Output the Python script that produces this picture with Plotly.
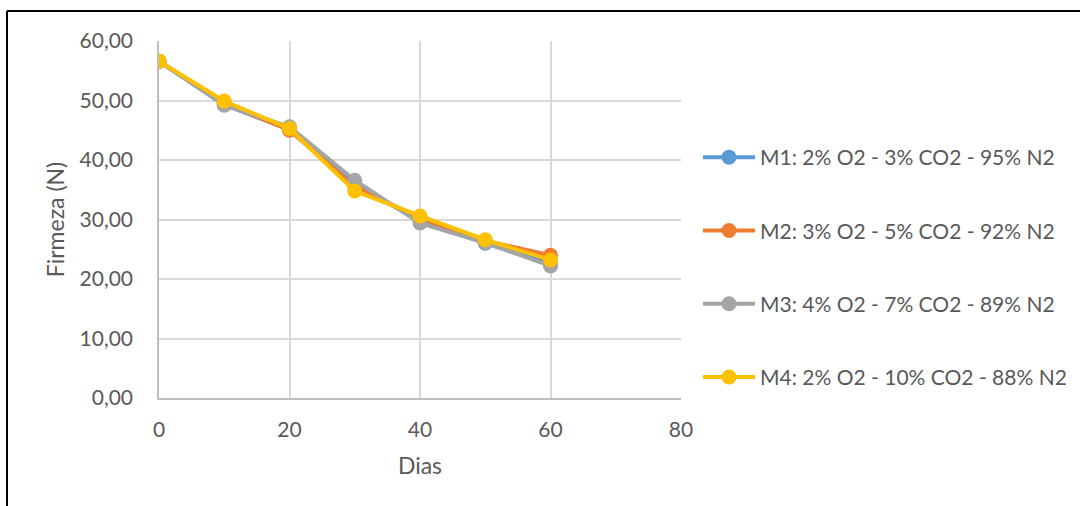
import plotly.graph_objects as go

# Storage days and firmness (N) for each modified-atmosphere mix
dias = [0, 10, 20, 30, 40, 50, 60]
m1 = [56.6, 49.3, 45.1, 35.8, 29.8, 26.0, 22.6]
m2 = [56.6, 49.5, 45.0, 35.5, 30.2, 26.4, 24.0]
m3 = [56.6, 49.2, 45.6, 36.6, 29.4, 26.1, 22.2]
m4 = [56.6, 49.9, 45.3, 34.8, 30.6, 26.6, 23.2]

nombres = [
    "M1: 2% O2 - 3% CO2 - 95% N2",
    "M2: 3% O2 - 5% CO2 - 92% N2",
    "M3: 4% O2 - 7% CO2 - 89% N2",
    "M4: 2% O2 - 10% CO2 - 88% N2",
]
colores = ["#5b9bd5", "#ed7d31", "#a5a5a5", "#ffc000"]
series = [m1, m2, m3, m4]

W, H = 1080, 506
ML, MR, MT, MB = 159, 399, 41, 108
PW, PH = W - ML - MR, H - MT - MB

FONT = "Lato, Open Sans, sans-serif"
GRIS = "#595959"

fig = go.Figure()
for i, (nom, col, ys) in enumerate(zip(nombres, colores, series)):
    fig.add_trace(go.Scatter(
        x=dias, y=ys, name=nom, mode="lines+markers",
        line=dict(color=col, width=4),
        marker=dict(color=col, size=15),
        legendgroup=f"g{i}",
    ))


def px_x(p):
    return (p - ML) / PW


def px_y(p):
    return (H - MB - p) / PH


# outer frame (left and top edges)
fig.add_shape(type="line", xref="paper", yref="paper",
              x0=px_x(7), y0=px_y(H + 5), x1=px_x(7), y1=px_y(11),
              line=dict(color="black", width=2))
fig.add_shape(type="line", xref="paper", yref="paper",
              x0=px_x(7), y0=px_y(11), x1=px_x(W + 5), y1=px_y(11),
              line=dict(color="black", width=2))

fig.update_layout(
    width=W, height=H,
    margin=dict(l=ML, r=MR, t=MT, b=MB, autoexpand=False),
    paper_bgcolor="white", plot_bgcolor="white",
    separators=",.",
    font=dict(family=FONT, color=GRIS, size=21),
    showlegend=True,
    legend=dict(
        x=px_x(698), y=px_y(137), xanchor="left", yanchor="top",
        font=dict(family=FONT, size=21, color=GRIS),
        tracegroupgap=43,
        itemwidth=52,
        bgcolor="rgba(0,0,0,0)",
    ),
    xaxis=dict(
        range=[0, 80], dtick=20, tick0=0,
        showgrid=True, gridcolor="#d9d9d9", gridwidth=1.5,
        zeroline=False, showline=True, linecolor="#bfbfbf", linewidth=1.5,
        ticks="", ticklabelstandoff=12,
        tickfont=dict(family=FONT, size=21, color=GRIS),
        title=dict(text="Dias", font=dict(family=FONT, size=23, color=GRIS), standoff=18),
    ),
    yaxis=dict(
        range=[0, 60], dtick=10, tick0=0, tickformat=".2f",
        showgrid=True, gridcolor="#d9d9d9", gridwidth=1.5,
        zeroline=False, showline=True, linecolor="#bfbfbf", linewidth=1.5,
        ticks="", ticklabelstandoff=20,
        tickfont=dict(family=FONT, size=21, color=GRIS),
        title=dict(text="Firmeza (N)", font=dict(family=FONT, size=23, color=GRIS), standoff=8),
    ),
)

fig.write_html("out.html")
